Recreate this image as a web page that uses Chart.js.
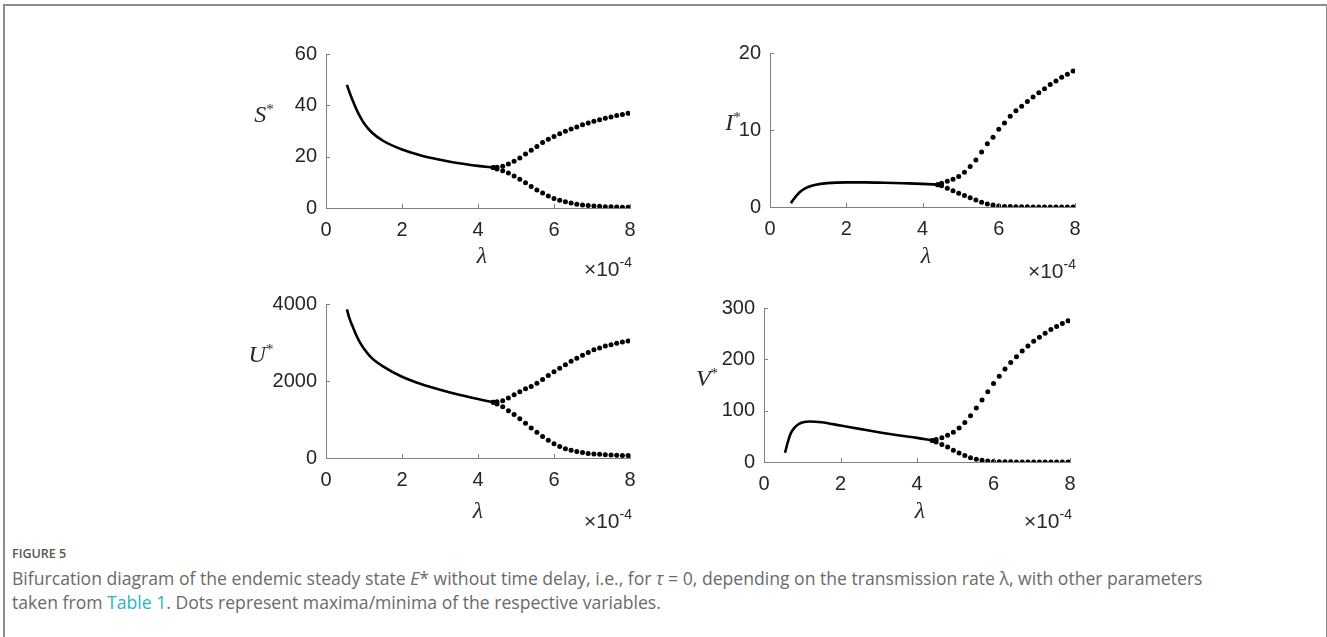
<!DOCTYPE html>
<html>
<head>
<meta charset="utf-8">
<script src="https://cdn.jsdelivr.net/npm/chart.js@4.4.0/dist/chart.umd.min.js"></script>
<style>
  html, body { margin: 0; padding: 0; background: #fff; }
  body { width: 1327px; height: 637px; position: relative; overflow: hidden; }
  .frame { position: absolute; left: 3px; top: 4px; width: 1321px; height: 660px;
           border: 2px solid #8c8c8c; border-bottom: none; }
  .panel { position: absolute; }
  .lbl { position: absolute; transform: translate(-50%, -50%); white-space: nowrap;
         font-family: "Liberation Serif", "DejaVu Serif", serif; font-style: italic;
         font-size: 24px; color: #2a2a2a; }
  .lbl sup { font-style: normal; font-size: 15px; vertical-align: 8px; }
  .exp { position: absolute; white-space: nowrap; font-family: "Liberation Sans", Arial, sans-serif;
         font-size: 21px; color: #2a2a2a; transform: translate(-100%, -50%); }
  .exp sup { font-size: 14px; vertical-align: 9px; }
  .caption { position: absolute; left: 12px; top: 545px; width: 1305px;
             font-family: "Open Sans", Lato, sans-serif; color: #6a6a6a; }
  .caption .fig { font-size: 12.5px; font-weight: 600; color: #555; line-height: 18px; }
  .caption .txt { font-size: 17.6px; line-height: 24px; margin-top: 3px; }
  .caption .txt a { color: #2bb3c6; text-decoration: none; }
</style>
</head>
<body>
<div class="frame"></div>

<script>
// lambda samples (units of 1e-4)
const lamSolid = [0.55, 0.62, 0.7, 0.8, 0.9, 1.0, 1.2, 1.5, 2.0, 2.5, 3.0, 3.5, 4.0, 4.4];
const lamDots = [4.4, 4.5, 4.65, 4.8, 4.95, 5.1, 5.25, 5.4, 5.55, 5.7, 5.85, 6.0, 6.15,
                 6.3, 6.45, 6.6, 6.75, 6.9, 7.05, 7.2, 7.35, 7.5, 7.65, 7.8, 7.95];
const xTicks = [0, 2, 4, 6, 8];

// S*
const sSolid = [48, 45, 42, 38.5, 35.5, 33, 29.5, 26.2, 22.8, 20.5, 18.8, 17.4, 16.4, 15.8];
const sMax = [15.8, 15.9, 16.3, 17.1, 18.2, 19.5, 21, 22.5, 24, 25.5, 26.8, 27.9, 28.9,
              29.9, 30.8, 31.6, 32.4, 33.1, 33.8, 34.4, 35.0, 35.5, 36.0, 36.4, 36.9];
const sMin = [15.8, 15.2, 14.5, 13.6, 12.5, 11.2, 9.8, 8.4, 7.0, 5.8, 4.7, 3.7, 3.0,
              2.4, 1.9, 1.5, 1.2, 1.0, 0.8, 0.65, 0.5, 0.45, 0.38, 0.32, 0.28];
const sTicks = [0, 20, 40, 60];

// I*
const iSolid = [0.5, 1.0, 1.5, 2.0, 2.35, 2.6, 2.9, 3.1, 3.2, 3.2, 3.15, 3.08, 3.0, 2.9];
const iMax = [2.9, 3.1, 3.35, 3.62, 3.95, 4.5, 5.25, 6.1, 7.15, 8.2, 9.05, 10.1, 10.9,
              11.8, 12.5, 13.1, 13.7, 14.3, 14.85, 15.35, 15.9, 16.35, 16.85, 17.25, 17.65];
const iMin = [2.9, 2.75, 2.45, 2.1, 1.8, 1.5, 1.2, 0.9, 0.62, 0.4, 0.25, 0.14, 0.08,
              0.05, 0.03, 0.02, 0.02, 0.01, 0.01, 0.01, 0.01, 0.01, 0.01, 0.01, 0.01];
const iTicks = [0, 10, 20];

// U*
const uSolid = [3860, 3620, 3420, 3180, 2990, 2840, 2600, 2380, 2110, 1920, 1770, 1640, 1530, 1450];
const uMax = [1450, 1460, 1490, 1560, 1640, 1720, 1800, 1860, 1940, 2040, 2140, 2240, 2330,
              2420, 2510, 2590, 2670, 2740, 2810, 2860, 2910, 2940, 2980, 3010, 3040];
const uMin = [1450, 1400, 1330, 1230, 1130, 1020, 900, 780, 670, 560, 460, 370, 300,
              240, 200, 170, 140, 120, 105, 95, 85, 78, 72, 67, 63];
const uTicks = [0, 2000, 4000];

// V*
const vSolid = [18, 38, 56, 67, 73.5, 77, 79, 77.5, 71, 64.5, 58, 52, 47, 42];
const vMax = [42, 44, 47, 52, 58, 66, 77, 90, 105, 121, 137, 153, 167,
              181, 194, 205, 216, 226, 235, 243, 251, 258, 264, 270, 275];
const vMin = [42, 39, 34, 29, 23, 17.5, 12.5, 8.5, 5.5, 3.3, 2, 1.2, 0.7,
              0.4, 0.3, 0.2, 0.2, 0.2, 0.2, 0.2, 0.2, 0.2, 0.2, 0.2, 0.2];
const vTicks = [0, 100, 200, 300];

const AXIS_COLOR = '#808080';
const TEXT_COLOR = '#262626';
const PAD_L = 80, PAD_T = 14, PAD_R = 18, PAD_B = 40;

// small inward tick marks like matlab
const inwardTicks = {
  id: 'inwardTicks',
  afterDraw(chart) {
    const ctx = chart.ctx;
    const xs = chart.scales.x, ys = chart.scales.y;
    const a = chart.chartArea;
    ctx.save();
    ctx.strokeStyle = AXIS_COLOR;
    ctx.lineWidth = 1;
    ctx.beginPath();
    xs.ticks.forEach(t => {
      const px = Math.round(xs.getPixelForValue(t.value)) + 0.5;
      ctx.moveTo(px, a.bottom);
      ctx.lineTo(px, a.bottom - 4);
    });
    ys.ticks.forEach(t => {
      const py = Math.round(ys.getPixelForValue(t.value)) + 0.5;
      ctx.moveTo(a.left, py);
      ctx.lineTo(a.left + 4, py);
    });
    ctx.stroke();
    ctx.restore();
  }
};

function makePanel(box, solid, upper, lower, yTicks, yLabel, yLabelPos, lamPos, expPos) {
  const wrap = document.createElement('div');
  wrap.className = 'panel';
  const w = (box.r - box.l) + PAD_L + PAD_R;
  const h = (box.b - box.t) + PAD_T + PAD_B;
  wrap.style.left = (box.l - PAD_L) + 'px';
  wrap.style.top = (box.t - PAD_T) + 'px';
  wrap.style.width = w + 'px';
  wrap.style.height = h + 'px';
  const cv = document.createElement('canvas');
  cv.width = w; cv.height = h;
  wrap.appendChild(cv);
  document.body.appendChild(wrap);

  const tickFont = { family: "'Liberation Sans', Arial, sans-serif", size: 20 };

  new Chart(cv, {
    type: 'scatter',
    data: {
      datasets: [
        {
          data: lamSolid.map((l, i) => ({ x: l, y: solid[i] })),
          showLine: true,
          borderColor: '#000',
          borderWidth: 2.6,
          pointRadius: 0,
          cubicInterpolationMode: 'monotone'
        },
        {
          data: lamDots.map((l, i) => ({ x: l, y: upper[i] })),
          showLine: false,
          backgroundColor: '#000',
          borderWidth: 0,
          pointRadius: 2.5
        },
        {
          data: lamDots.map((l, i) => ({ x: l, y: lower[i] })),
          showLine: false,
          backgroundColor: '#000',
          borderWidth: 0,
          pointRadius: 2.5
        }
      ]
    },
    options: {
      responsive: false,
      animation: false,
      devicePixelRatio: 1,
      layout: { padding: { top: PAD_T, right: PAD_R, left: 0, bottom: 0 } },
      plugins: { legend: { display: false }, tooltip: { enabled: false } },
      scales: {
        x: {
          type: 'linear',
          min: 0, max: 8,
          afterBuildTicks: s => { s.ticks = xTicks.map(v => ({ value: v })); },
          afterFit: s => { s.height = PAD_B; },
          grid: { display: false, drawTicks: false },
          border: { display: true, color: AXIS_COLOR, width: 1 },
          ticks: { color: TEXT_COLOR, font: tickFont, padding: 10, maxRotation: 0,
                   callback: v => String(v) }
        },
        y: {
          type: 'linear',
          min: yTicks[0], max: yTicks[yTicks.length - 1],
          afterBuildTicks: s => { s.ticks = yTicks.map(v => ({ value: v })); },
          afterFit: s => { s.width = PAD_L; },
          grid: { display: false, drawTicks: false },
          border: { display: true, color: AXIS_COLOR, width: 1 },
          ticks: { color: TEXT_COLOR, font: tickFont, padding: 9,
                   callback: v => String(v) }
        }
      }
    },
    plugins: [inwardTicks]
  });

  const yl = document.createElement('div');
  yl.className = 'lbl';
  yl.innerHTML = yLabel + '<sup>*</sup>';
  yl.style.left = yLabelPos[0] + 'px';
  yl.style.top = yLabelPos[1] + 'px';
  document.body.appendChild(yl);

  const xl = document.createElement('div');
  xl.className = 'lbl';
  xl.textContent = 'λ';
  xl.style.left = lamPos[0] + 'px';
  xl.style.top = lamPos[1] + 'px';
  document.body.appendChild(xl);

  const ex = document.createElement('div');
  ex.className = 'exp';
  ex.innerHTML = '×10<sup>-4</sup>';
  ex.style.left = expPos[0] + 'px';
  ex.style.top = expPos[1] + 'px';
  document.body.appendChild(ex);
}

makePanel({ l: 326, r: 630, t: 47, b: 208 }, sSolid, sMax, sMin, sTicks, 'S', [264, 114], [482, 255], [632, 267]);
makePanel({ l: 770, r: 1075, t: 46, b: 207 }, iSolid, iMax, iMin, iTicks, 'I', [733, 122], [926, 255], [1076, 269]);
makePanel({ l: 326, r: 630, t: 297, b: 458 }, uSolid, uMax, uMin, uTicks, 'U', [261, 354], [478, 510], [632, 519]);
makePanel({ l: 764, r: 1070, t: 301, b: 462 }, vSolid, vMax, vMin, vTicks, 'V', [707, 378], [920, 510], [1072, 519]);
</script>

<div class="caption">
  <div class="fig">FIGURE 5</div>
  <div class="txt">Bifurcation diagram of the endemic steady state <i>E</i>* without time delay, i.e., for <i>τ</i> = 0, depending on the transmission rate λ, with other parameters<br>taken from <a>Table 1</a>. Dots represent maxima/minima of the respective variables.</div>
</div>
</body>
</html>
